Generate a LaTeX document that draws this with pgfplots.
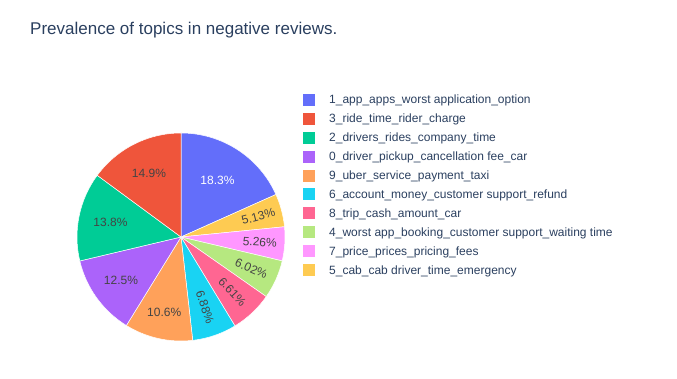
\documentclass[border=0pt]{standalone}
\usepackage{pgfplots}
\pgfplotsset{compat=1.18}
\usepackage{fontspec}
\setmainfont{Liberation Sans}
\definecolor{c1}{HTML}{636EFA}
\definecolor{c2}{HTML}{EF553B}
\definecolor{c3}{HTML}{00CC96}
\definecolor{c4}{HTML}{AB63FA}
\definecolor{c5}{HTML}{FFA15A}
\definecolor{c6}{HTML}{19D3F3}
\definecolor{c7}{HTML}{FF6692}
\definecolor{c8}{HTML}{B6E880}
\definecolor{c9}{HTML}{FF97FF}
\definecolor{c10}{HTML}{FECB52}
\definecolor{titlec}{HTML}{2A3F5F}
\definecolor{lab}{HTML}{444444}
\newcommand\labfont{\fontsize{12}{14}\selectfont}
\newcommand\titlefont{\fontsize{17}{20}\selectfont}
\tikzset{lbl/.style={font=\labfont, inner sep=0pt}, leg/.style={font=\labfont, text=titlec, anchor=base west, inner sep=0pt}}
\begin{document}
\begin{tikzpicture}
\begin{axis}[scale only axis, width=677pt, height=379pt,
  xmin=0, xmax=677, ymin=0, ymax=379, hide axis, clip=false]
\path (axis cs:0,0) rectangle (axis cs:677,379);
% slices: value / colour (clockwise from 12 o'clock)
\gdef\startang{90}
\foreach \v/\c in {18.3/c1, 5.13/c10, 5.26/c9, 6.02/c8, 6.61/c7, 6.88/c6, 10.6/c5, 12.5/c4, 13.8/c3, 14.9/c2} {
  \pgfmathsetmacro\a{\startang}
  \pgfmathsetmacro\b{\a-3.6*\v}
  \edef\tmp{\noexpand\fill[fill=\c, draw=white, line width=0.5pt] (axis cs:181,142) -- ++(\a:104pt) arc[start angle=\a, end angle=\b, radius=104pt] -- cycle;}
  \tmp
  \xdef\startang{\b}
}
% labels: value / distance / rotate? / text colour
\gdef\startang{90}
\foreach \v/\r/\rot/\tc in {18.3/67/0/white, 5.13/80/1/lab, 5.26/79/1/lab, 6.02/77/1/lab, 6.61/75/1/lab, 6.88/74/1/lab, 10.6/77/0/lab, 12.5/74/0/lab, 13.8/72/0/lab, 14.9/71/0/lab} {
  \pgfmathsetmacro\a{\startang}
  \pgfmathsetmacro\b{\a-3.6*\v}
  \pgfmathsetmacro\m{(\a+\b)/2}
  \pgfmathsetmacro\ang{\rot*\m}
  \edef\tmp{\noexpand\path (axis cs:181,142) ++(\m:\r pt) node[lbl, rotate=\ang, text=\tc] {\v\noexpand\%};}
  \tmp
  \xdef\startang{\b}
}
\node[anchor=base west, font=\titlefont, text=titlec, inner sep=0pt] at (axis cs:30,344) {Prevalence of topics in negative reviews.};
% legend
\fill[c1]  (axis cs:303,273)   rectangle (axis cs:315,285);
\fill[c2]  (axis cs:303,254.1) rectangle (axis cs:315,266.1);
\fill[c3]  (axis cs:303,235.2) rectangle (axis cs:315,247.2);
\fill[c4]  (axis cs:303,216.3) rectangle (axis cs:315,228.3);
\fill[c5]  (axis cs:303,197.4) rectangle (axis cs:315,209.4);
\fill[c6]  (axis cs:303,178.5) rectangle (axis cs:315,190.5);
\fill[c7]  (axis cs:303,159.6) rectangle (axis cs:315,171.6);
\fill[c8]  (axis cs:303,140.7) rectangle (axis cs:315,152.7);
\fill[c9]  (axis cs:303,121.8) rectangle (axis cs:315,133.8);
\fill[c10] (axis cs:303,102.9) rectangle (axis cs:315,114.9);
\node[leg] at (axis cs:329,275)   {1\_app\_apps\_worst application\_option};
\node[leg] at (axis cs:329,256.1) {3\_ride\_time\_rider\_charge};
\node[leg] at (axis cs:329,237.2) {2\_drivers\_rides\_company\_time};
\node[leg] at (axis cs:329,218.3) {0\_driver\_pickup\_cancellation fee\_car};
\node[leg] at (axis cs:329,199.4) {9\_uber\_service\_payment\_taxi};
\node[leg] at (axis cs:329,180.5) {6\_account\_money\_customer support\_refund};
\node[leg] at (axis cs:329,161.6) {8\_trip\_cash\_amount\_car};
\node[leg] at (axis cs:329,142.7) {4\_worst app\_booking\_customer support\_waiting time};
\node[leg] at (axis cs:329,123.8) {7\_price\_prices\_pricing\_fees};
\node[leg] at (axis cs:329,104.9) {5\_cab\_cab driver\_time\_emergency};
\end{axis}
\end{tikzpicture}
\end{document}
